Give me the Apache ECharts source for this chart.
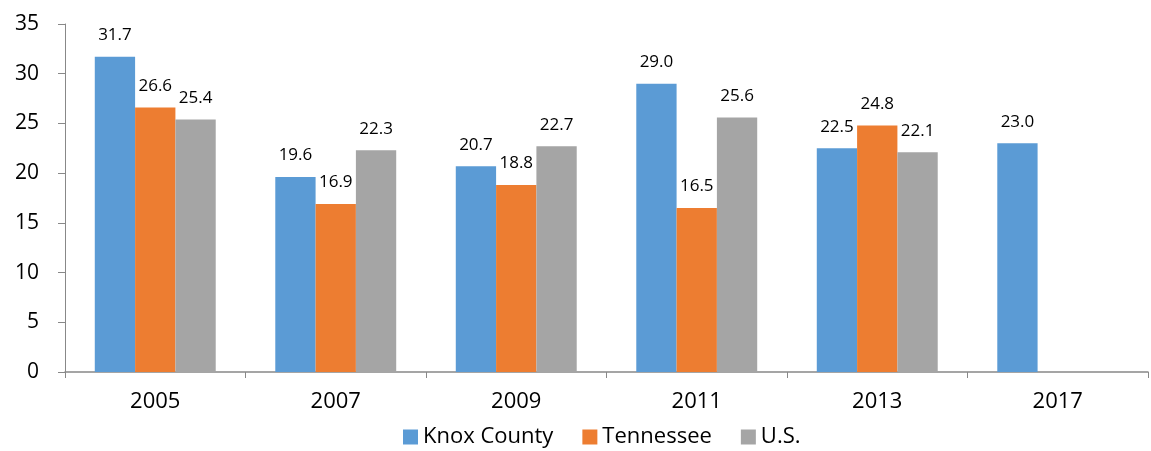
<!DOCTYPE html>
<html>
<head>
<meta charset="utf-8">
<script src="https://cdn.jsdelivr.net/npm/echarts@6/dist/echarts.min.js"></script>
<style>
  html, body { margin: 0; padding: 0; background: #fff; }
  #chart { width: 1151px; height: 451px; }
</style>
</head>
<body>
<div id="chart"></div>
<script>
const years = ['2005', '2007', '2009', '2011', '2013', '2017'];
const knoxCounty = [31.7, 19.6, 20.7, 29.0, 22.5, 23.0];
const tennessee = [26.6, 16.9, 18.8, 16.5, 24.8, null];
const us = [25.4, 22.3, 22.7, 25.6, 22.1, null];
const yTicks = { min: 0, max: 35, interval: 5 };

const FONT = '"Open Sans", "Liberation Sans", sans-serif';

function barSeries(name, data, color) {
  return {
    name: name,
    type: 'bar',
    data: data,
    itemStyle: { color: color },
    barGap: '0%',
    barCategoryGap: '33%',
    label: {
      show: true,
      position: 'top',
      distance: 13,
      color: '#000',
      fontFamily: FONT,
      fontSize: 17,
      formatter: p => p.value == null ? '' : Number(p.value).toFixed(1)
    }
  };
}

const chart = echarts.init(document.getElementById('chart'), null, { renderer: 'canvas' });
chart.setOption({
  animation: false,
  grid: { left: 65, right: 3, top: 24, bottom: 79, containLabel: false },
  legend: {
    bottom: -2,
    left: 398,
    itemWidth: 15,
    itemHeight: 15,
    itemGap: 29,
    icon: 'rect',
    textStyle: { fontFamily: FONT, fontSize: 22, color: '#000' },
    data: ['Knox County', 'Tennessee', 'U.S.']
  },
  xAxis: {
    type: 'category',
    data: years,
    axisLine: { lineStyle: { color: '#888', width: 1.5 } },
    axisTick: { show: true, length: 6, lineStyle: { color: '#888' } },
    axisLabel: { fontFamily: FONT, fontSize: 22, color: '#000', margin: 19 }
  },
  yAxis: {
    type: 'value',
    min: yTicks.min,
    max: yTicks.max,
    interval: yTicks.interval,
    axisLine: { show: true, lineStyle: { color: '#888' } },
    axisTick: { show: true, length: 7, lineStyle: { color: '#888' } },
    splitLine: { show: false },
    axisLabel: { fontFamily: FONT, fontSize: 21, color: '#000', margin: 26 }
  },
  series: [
    barSeries('Knox County', knoxCounty, '#5B9BD5'),
    barSeries('Tennessee', tennessee, '#ED7D31'),
    barSeries('U.S.', us, '#A5A5A5')
  ]
});
</script>
</body>
</html>
